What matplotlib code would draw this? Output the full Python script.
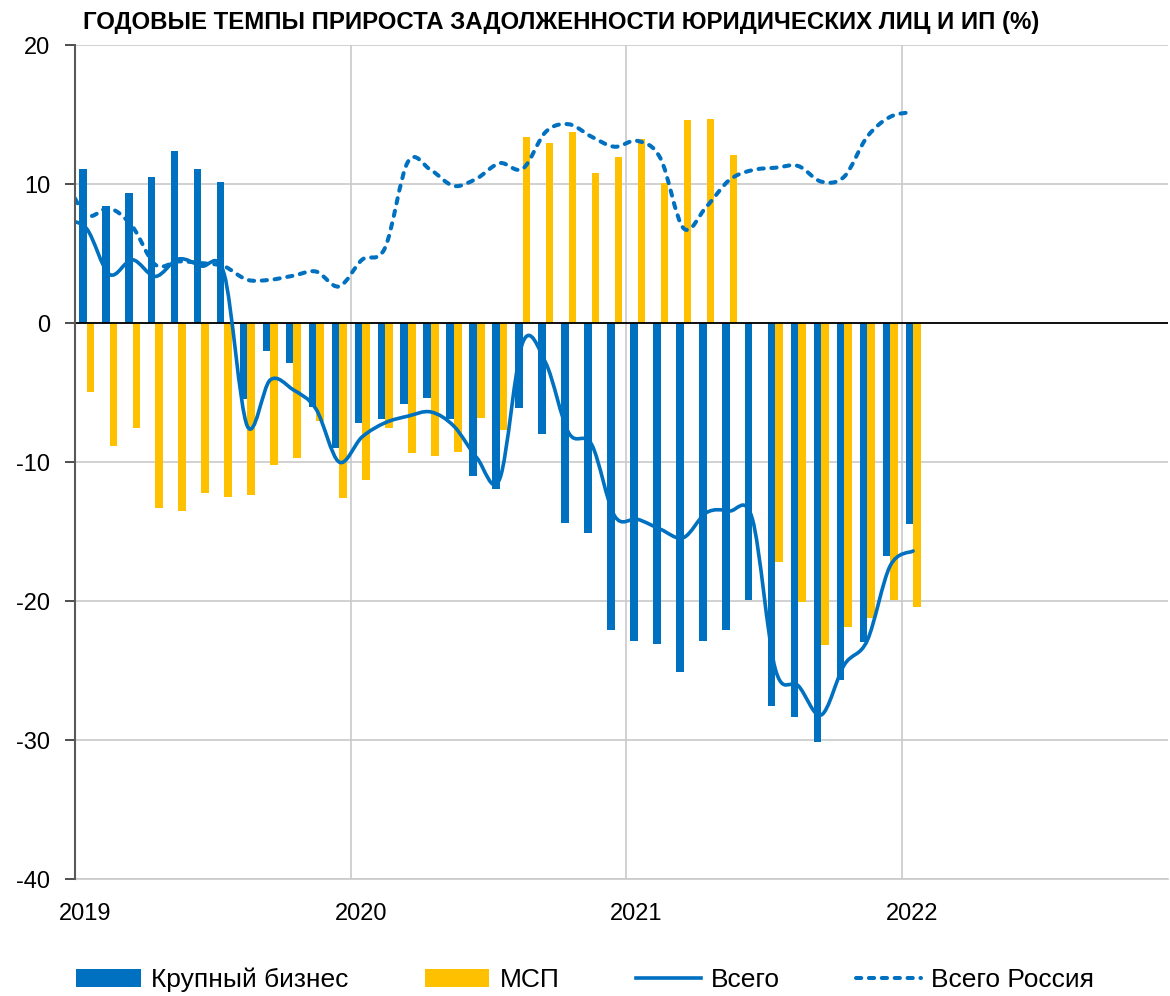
import numpy as np
import matplotlib
matplotlib.use('Agg')
import matplotlib.pyplot as plt
from matplotlib.path import Path
from matplotlib.patches import PathPatch
from matplotlib.lines import Line2D

plt.rcParams['font.family'] = ['Liberation Sans', 'DejaVu Sans']

BLUE = '#0070C0'
YELLOW = '#FFC000'

# months Jan 2019 .. Jan 2022
months = ['2019-01', '2019-02', '2019-03', '2019-04', '2019-05', '2019-06',
          '2019-07', '2019-08', '2019-09', '2019-10', '2019-11', '2019-12',
          '2020-01', '2020-02', '2020-03', '2020-04', '2020-05', '2020-06',
          '2020-07', '2020-08', '2020-09', '2020-10', '2020-11', '2020-12',
          '2021-01', '2021-02', '2021-03', '2021-04', '2021-05', '2021-06',
          '2021-07', '2021-08', '2021-09', '2021-10', '2021-11', '2021-12',
          '2022-01']

large_business = [11.05, 8.42, 9.38, 10.53, 12.37, 11.05, 10.12, -5.46, -2.04, -2.9, -6.03, -8.97,
                  -7.18, -6.94, -5.86, -5.38, -6.94, -11.01, -11.97, -6.1, -7.97, -14.36, -15.08, -22.07,
                  -22.86, -23.09, -25.13, -22.9, -22.07, -19.94, -27.52, -28.36, -30.15, -25.68, -22.97, -16.75,
                  -14.48]

sme = [-4.98, -8.86, -7.56, -13.28, -13.52, -12.23, -12.52, -12.38, -10.22, -9.74, -7.06, -12.56,
       -11.3, -7.54, -9.33, -9.57, -9.29, -6.82, -7.68, 13.35, 12.97, 13.76, 10.77, 11.92,
       13.23, 10.1, 14.6, 14.67, 12.08, np.nan, -17.16, -20.06, -23.14, -21.85, -21.2, -19.94,
       -20.46]

# lines start one month earlier (Dec 2018), clipped by the axis
line_months = ['2018-12'] + months
total = [7.4, 6.8, 3.5, 4.55, 3.35, 4.6, 4.1, 3.5, -7.4, -4.1, -4.8, -6.2, -10.0,
         -8.2, -7.18, -6.7, -6.4, -7.42, -9.7, -11.2, -1.4, -2.87, -7.9, -8.74, -13.88,
         -14.12, -14.84, -15.44, -13.64, -13.52, -14.1, -24.9, -26.1, -28.2, -24.6, -22.85, -17.47,
         -16.4]
total_russia = [10.6, 7.77, 8.26, 6.94, 4.19, 4.43, 4.31, 4.07, 3.11, 3.11, 3.4, 3.7, 2.63,
                4.55, 5.4, 11.6, 11.0, 9.86, 10.4, 11.5, 11.1, 13.75, 14.3, 13.4, 12.68,
                13.1, 11.84, 6.82, 8.37, 10.29, 11.0, 11.17, 11.29, 10.17, 10.53, 13.4, 14.83,
                15.19]

year_labels = ['2019', '2020', '2021', '2022']


def month_pos(m):
    y, mo = m.split('-')
    return (int(y) - 2019) * 12 + int(mo) - 1 + 0.5


def smooth_path(xs, ys):
    # Excel-like smoothed line: Catmull-Rom as cubic Bezier segments
    pts = np.column_stack([xs, ys])
    n = len(pts)
    verts = [pts[0]]
    codes = [Path.MOVETO]
    for i in range(n - 1):
        p0 = pts[max(i - 1, 0)]
        p1 = pts[i]
        p2 = pts[i + 1]
        p3 = pts[min(i + 2, n - 1)]
        c1 = p1 + (p2 - p0) / 6.0
        c2 = p2 - (p3 - p1) / 6.0
        verts += [c1, c2, p2]
        codes += [Path.CURVE4] * 3
    return Path(verts, codes)


x = np.array([month_pos(m) for m in months])
xl = np.array([month_pos(m) for m in line_months])

fig = plt.figure(figsize=(11.7, 9.96), dpi=100)
ax = fig.add_axes([75 / 1170, 1 - 879 / 996, 1093 / 1170, (879 - 45) / 996])

w = 0.33
b1 = ax.bar(x - 0.16, large_business, width=w, color=BLUE, zorder=3, label='Крупный бизнес')
b2 = ax.bar(x + 0.17, sme, width=w, color=YELLOW, zorder=3, label='МСП')

p_total = PathPatch(smooth_path(xl, total), fill=False, edgecolor=BLUE, lw=2.6,
                    zorder=5, capstyle='round', joinstyle='round')
ax.add_patch(p_total)
p_rus = PathPatch(smooth_path(xl, total_russia), fill=False, edgecolor=BLUE, lw=2.9,
                  linestyle=(0, (1.3, 1.9)), zorder=5, capstyle='round')
ax.add_patch(p_rus)

ax.axhline(0, color='black', lw=1.3, zorder=4)

ax.set_xlim(0, 47.6)
ax.set_ylim(-40, 20)
ax.set_yticks([-40, -30, -20, -10, 0, 10, 20])
ax.set_yticklabels(['-40', '-30', '-20', '-10', '0', '10', '20'], fontsize=17)
ax.tick_params(axis='y', length=7, width=1.3, color='#404040', pad=11, direction='out')

ax.set_xticks([0, 12, 24, 36])
ax.set_xticklabels([])
ax.tick_params(axis='x', length=0)
ax.set_xticks([0.45, 12.45, 24.45, 36.45], minor=True)
ax.set_xticklabels(year_labels, minor=True, fontsize=17)
ax.tick_params(axis='x', which='minor', length=0, pad=17)

ax.grid(True, which='major', color='#c9c9c9', lw=1.2, zorder=0)
for s in ['top', 'right']:
    ax.spines[s].set_visible(False)
ax.spines['bottom'].set_color('#c9c9c9')
ax.spines['bottom'].set_linewidth(1.2)
ax.spines['left'].set_color('#595959')
ax.spines['left'].set_linewidth(1.5)
ax.spines['left'].set_zorder(6)

fig.text(83 / 1170, 1 - 22 / 996, 'ГОДОВЫЕ ТЕМПЫ ПРИРОСТА ЗАДОЛЖЕННОСТИ ЮРИДИЧЕСКИХ ЛИЦ И ИП (%)',
         fontsize=17.3, fontweight='bold', va='center', ha='left')

h_total = Line2D([], [], color=BLUE, lw=2.6)
h_rus = Line2D([], [], color=BLUE, lw=2.9, linestyle=(0, (1.3, 1.9)), dash_capstyle='round')
fig.legend([b1, b2, h_total, h_rus], ['Крупный бизнес', 'МСП', 'Всего', 'Всего Россия'],
           loc='center', bbox_to_anchor=(0.5, 1 - 980 / 996), ncol=4, frameon=False,
           fontsize=19, handlelength=2.45, handletextpad=0.38, columnspacing=2.9)

fig.savefig('out.png', dpi=100)
